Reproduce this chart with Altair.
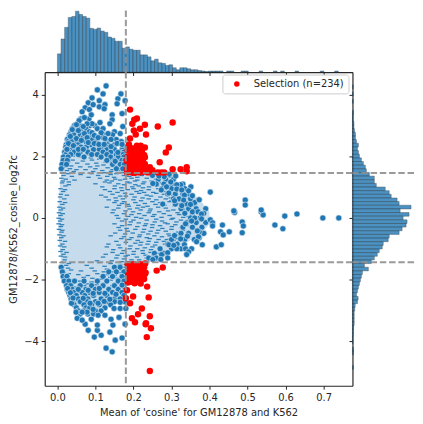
import altair as alt
import pandas as pd

BLUE = "#1f77b4"
INK = "#262626"
X_DOM = [-0.0334, 0.776]
Y_DOM = [-5.45, 4.74]
X_TICKS = [0, .1, .2, .3, .4, .5, .6, .7]
Y_TICKS = [-4, -2, 0, 2, 4]
VLINE = [0.18]
HLINES = [1.46, -1.44]

# top histogram: bar heights, bin 0 starts at x = 0
top_width = 0.00947
top_heights = [18.3, 33.3, 45, 55, 56, 61.3, 58, 56, 54.3, 44, 43, 44.3, 41.3, 40, 35.3, 34, 31, 31, 24, 25.3,
               23, 22, 22, 17.3, 17.3, 15.3, 11.3, 13, 9.3, 8.7, 6.7, 7.3, 4.3, 2.3, 4.3, 4.3, 3.3, 2.3, 2.3,
               1.5, 1, .5, 1, 1, 1, 1, 0, 1, 1, 0, 0, 1, 1, 0, 0, 0, 1, 0, 0, 0, 1, 0, 1, 0, 0, 0, 1, 0, 0, 0, 0, 0, 0, 1, 0, 0, 0, 1]

# right histogram: bar lengths, bin 0 has its top edge at y = 4.32
right_width = 0.1184
right_top = 4.32
right_heights = [.8, 0, .8, 0, .8, 0, 0, 1, .5, .5, 1.5, 1.5, 2,
                 3, 3, 4, 6, 5, 6, 7, 9, 11, 13, 14, 17, 22, 22, 24, 33, 37, 39, 45, 47, 59,
                 48, 57, 51, 55, 54, 50, 47, 37, 36, 31, 30, 27, 25, 22, 19, 12, 16, 10, 9, 8, 7, 6, 5, 4,
                 5.7, 5, 2.7, 2.3, 1.7, 1.7, 1.7, 1.7, 1, .7, .7, .5, .5, 0, 1, 1, 0, 0, 0, 1]

# pale body of the cloud
env_x = [.002, .005, .01, .02, .04, .07, .10, .14, .18, .22, .26, .30, .34, .38, .40]
env_hi = [.3, .9, 1.4, 2.0, 2.55, 2.9, 2.8, 2.45, 1.9, 1.45, 1.35, 1.2, .9, .5, .2]
env_lo = [-.3, -.9, -1.45, -2.05, -2.65, -3.0, -3.0, -2.7, -2.0, -1.45, -1.3, -1.05, -.8, -.5, -.2]

# slivers of overlapped points inside the pale body, by row
sliver_rows = {
    2.12: [.052, .123], 2.09: [.03, .145], 2.06: [.078, .095, .165], 2.01: [.041, .134], 1.98: [.062, .113], 1.95: [.088, .158],
    1.91: [.022, .11, .172], 1.88: [.04, .091, .155], 1.85: [.067, .138], 1.81: [.028, .127], 1.78: [.052, .102, .168], 1.75: [.079, .149],
    1.72: [.02, .121, .173], 1.69: [.036, .105, .15], 1.66: [.06, .086], 1.63: [.014, .132, .177], 1.6: [.033, .1, .16], 1.57: [.05, .074, .145],
    1.54: [.025, .118, .166], 1.51: [.043, .094, .141], 1.47: [.012, .123, .17], 1.44: [.028, .09, .155], 1.41: [.061, .14, .2],
    1.38: [.016, .107, .175, .222], 1.35: [.038, .131, .189], 1.32: [.082, .149, .21], 1.29: [.01, .112, .195, .235],
    1.26: [.022, .152, .178, .26], 1.23: [.045, .13, .165, .21], 1.2: [.014, .143, .204, .248], 1.17: [.03, .125, .184, .228],
    1.14: [.012, .137, .19, .275], 1.11: [.1, .16, .225, .25], 1.08: [.03, .175, .205, .29], 1.04: [.021, .151, .214, .262],
    1.01: [.118, .197, .241], .98: [.168, .225, .28], .95: [.008, .15, .2, .265], .92: [.02, .125, .185, .24], .89: [.17, .22, .31],
    .86: [.015, .138, .208, .284], .83: [.158, .228, .252], .8: [.178, .215, .26], .77: [.009, .145, .195, .28], .74: [.025, .115, .235, .305],
    .71: [.165, .18, .246], .68: [.007, .127, .203, .271], .65: [.153, .224, .298], .62: [.018, .172, .24, .285], .59: [.135, .2, .26],
    .56: [.155, .22, .3, .325], .53: [.006, .175, .25, .295], .5: [.02, .15, .205, .27], .47: [.17, .23, .32], .44: [.013, .185, .258],
    .41: [.162, .213, .281], .38: [.188, .237, .309], .35: [.005, .13, .225, .265], .32: [.015, .16, .21, .285], .29: [.19, .245, .33],
    .26: [.009, .148, .219, .305], .23: [.179, .243, .291], .2: [.199, .268, .338], .17: [.004, .145, .24, .316], .14: [.014, .175, .215, .28],
    .11: [.195, .255, .32], .08: [.008, .156, .229, .295], .05: [.186, .251, .345], .02: [.207, .274, .331], -.01: [.003, .16, .22, .304],
    -.04: [.012, .18, .26, .3], -.07: [.2, .235, .325], -.1: [.007, .17, .275, .35], -.13: [.193, .256, .313], -.16: [.214, .283, .342],
    -.19: [.003, .15, .233, .29], -.22: [.012, .19, .25, .31], -.25: [.17, .23, .27, .34], -.28: [.009, .21, .301],
    -.31: [.161, .249, .327], -.34: [.182, .276], -.37: [.004, .205, .228, .3], -.4: [.013, .165, .265, .33], -.43: [.185, .245, .285],
    -.46: [.011, .225, .318], -.49: [.152, .198, .262], -.52: [.178, .239, .292], -.55: [.005, .217, .32],
    -.58: [.016, .14, .255, .295], -.61: [.175, .215, .275], -.64: [.01, .195, .235], -.67: [.168, .243, .312], -.7: [.189, .266, .288],
    -.73: [.006, .211, .305], -.76: [.02, .155, .24, .28], -.79: [.18, .22, .26], -.82: [.205, .299], -.85: [.013, .134, .237, .283],
    -.88: [.161, .218, .257], -.91: [.007, .192, .29], -.94: [.018, .13, .25, .32], -.97: [.165, .23, .27], -1.0: [.19, .21],
    -1.03: [.014, .147, .246], -1.06: [.174, .224, .272], -1.09: [.008, .201, .285], -1.12: [.024, .145, .245], -1.15: [.17, .225, .265],
    -1.18: [.016, .127, .2], -1.21: [.158, .232, .185], -1.24: [.009, .179, .253], -1.27: [.02, .12, .209], -1.3: [.155, .235], -1.33: [.175, .255],
    -1.36: [.019, .195, .215], -1.39: [.104, .143, .241], -1.42: [.169, .188], -1.45: [.011, .217, .11], -1.48: [.03, .14],
    -1.51: [.165, .18], -1.54: [.023, .077], -1.57: [.124, .152], -1.6: [.172, .012], -1.63: [.028, .09], -1.66: [.13, .15], -1.69: [.17, .036],
    -1.72: [.062, .098], -1.75: [.122, .146], -1.78: [.163, .016], -1.81: [.03, .105], -1.84: [.055, .13], -1.87: [.08, .15, .17],
    -1.9: [.025, .117], -1.93: [.069, .139], -1.96: [.092, .159], -1.99: [.018, .115], -2.02: [.04, .14], -2.05: [.06, .16], -2.08: [.09, .175],
    -2.11: [.033, .127], -2.14: [.078, .151], -2.17: [.103, .035], -2.2: [.07, .145], -2.24: [.044, .12, .165], -2.28: [.083, .136],
    -2.32: [.055, .11, .158], -2.36: [.085, .135], -2.4: [.06, .16],
}

# whole blue points in the sparser parts, by row
dot_rows = {
    3.22: [.062, .083],
    3.0: [.045, .058, .085, .098],
    2.9: [.04, .062, .075, .105, .12],
    2.8: [.036, .044, .084, .15],
    2.7: [.032, .043, .06, .122, .145],
    2.62: [.031, .068, .088, .118],
    2.55: [.026, .041, .071, .092, .155],
    2.48: [.028, .037, .052, .075, .103, .13, .168],
    2.38: [.023, .035, .055, .088, .132, .15],
    2.3: [.022, .032, .047, .062, .076, .115, .134, .176],
    2.22: [.024, .039, .05, .07, .095, .11, .13, .15, .17],
    2.14: [.019, .03, .044, .06, .08, .12, .14, .165, .175],
    2.06: [.022, .035, .055, .09, .105, .13, .155, .172],
    1.98: [.016, .028, .07, .115, .14, .16, .175],
    1.87: [.015, .026, .13, .15, .17, .178],
    1.74: [.012, .024, .145, .165, .176],
    1.6: [.01, .155, .172],
    1.38: [.25, .295],
    1.25: [.265, .285, .305],
    1.1: [.26, .28, .3, .33],
    .95: [.275, .3, .32, .335],
    .78: [.29, .31, .33, .345],
    .62: [.305, .32, .35],
    .45: [.31, .34, .36],
    .3: [.325, .345, .365, .39],
    .15: [.335, .355, .385],
    0.0: [.35, .375],
    -.15: [.34, .365, .39],
    -.3: [.33, .355, .38],
    -.5: [.325, .345, .385],
    -.7: [.3, .335, .36],
    -.85: [.29, .315],
    -1.0: [.27, .3, .325],
    -1.15: [.255, .28],
    -1.3: [.24, .26],
    -1.6: [.01, .15, .165],
    -1.75: [.013, .135, .155, .175],
    -1.9: [.015, .025, .12, .145, .17],
    -2.05: [.018, .03, .045, .07, .105, .13, .16, .175],
    -2.2: [.024, .035, .06, .09, .12, .15, .172],
    -2.32: [.026, .04, .052, .075, .1, .135, .16, .178],
    -2.42: [.03, .043, .065, .085, .11, .145, .17],
    -2.52: [.033, .05, .072, .095, .13, .155, .175],
    -2.63: [.036, .055, .08, .115, .15, .165],
    -2.72: [.04, .06, .078, .1, .13, .15, .176],
    -2.82: [.044, .07, .09, .11, .14],
    -2.92: [.05, .075, .085, .125],
    -3.02: [.055, .07, .1, .115],
    -3.12: [.06, .08, .095],
}

# scattered blue points read one by one
blue_x = [.128, .105, .12, .167, .159, .091, .11, .157, .178, .081, .094, .11, .125, .123, .073, .084, .065, .089, .144, .17,
          .144, .138, .112, .091, .071, .057, .078, .05, .068, .039, .055, .071, .091, .115, .133, .165, .097, .107, .078, .034,
          .05, .063, .125, .141, .157, .17, .029, .042, .081, .097, .109, .123, .141, .159, .152, .025, .055, .068, .172,
          .311, .294, .281, .267, .351, .324, .314, .298, .287, .314, .327, .345, .355, .334, .402, .371, .361, .35, .332, .308,
          .327, .355, .37, .277, .293, .273, .251, .466, .536, .541, .598, .63, .698, .74, .402, .408, .408, .434, .486, .489,
          .572, .593, .429, .436, .452, .486, .381, .418, .431, .373, .373, .379, .379, .494, .494, .536, .464, .373,
          .361, .337, .353, .368, .371, .366, .334, .337, .353, .345, .34, .314, .293, .306, .29, .29, .274, .272, .251, .324, .308, .342,
          .128, .144, .152, .17, .097, .115, .138, .081, .105, .052, .146, .105, .178, .162, .141, .073, .065, .049, .089, .107, .125,
          .149, .165, .18, .165, .094, .078, .065, .037, .027, .034, .041, .055, .068, .086, .107, .123, .138, .154, .17, .081, .094, .11, .125]
blue_y = [4.29, 4.16, 4.03, 4.03, 3.87, 3.9, 3.81, 3.71, 3.81, 3.74, 3.68, 3.61, 3.68, 3.55, 3.58, 3.52, 3.45, 3.35, 3.35, 3.39,
          3.19, 3.06, 3.1, 3.06, 3.26, 3.16, 3.06, 3.03, 2.97, 2.87, 2.84, 2.74, 2.77, 2.77, 2.74, 2.74, 2.68, 2.61, 2.61, 2.65,
          2.58, 2.52, 2.58, 2.55, 2.42, 2.39, 2.42, 2.35, 2.45, 2.42, 2.39, 2.39, 2.32, 2.13, 1.84, 2.23, 2.23, 2.23, 2.97,
          1.36, 1.42, 1.34, 1.36, 1.01, 1.08, 1.08, 1.17, 1.01, .94, .91, .88, .72, .74, .84, .59, .5, .44, .58, .56,
          .4, .2, .2, .45, .81, .91, 1.12, .18, .2, .1, .06, .13, 0, 0, -.06, -.16, -.26, -.23, -.13, -.26,
          -.23, -.35, -.45, -.55, -.45, -.48, -.87, -.94, -.87, -.45, -.64, .13, -.03, .58, .42, .26, .23, .59,
          0, -.19, -.1, -.42, -.61, -.77, -.87, -1.0, -1.0, -1.1, -1.19, -1.0, -.87, -.89, -1.13, -1.3, -1.19, -1.35, -1.35, -.68, -.57, -.59,
          -4.23, -4.35, -3.97, -3.9, -3.87, -3.81, -3.71, -3.65, -3.65, -3.26, -3.48, -3.48, -3.45, -3.23, -3.29, -3.45, -3.32, -3.06, -3.29, -3.16, -3.16,
          -2.94, -2.94, -2.94, -2.74, -2.97, -3.06, -3.06, -2.77, -2.29, -2.43, -2.6, -2.32, -2.61, -2.77, -2.77, -2.71, -2.64, -2.48, -2.18, -2.35, -2.45, -2.29, -2.45]

# selected points
red_x = [.191, .209, .202, .197, .23, .303, .264, .217, .201, .206, .233, .191, .293, .285, .269, .243, .225, .303, .324, .34, .34, .264, .281, .273,
         .23, .219, .209, .188, .196, .222, .23, .225,
         .185, .19, .195, .2, .205, .21, .215, .22, .185, .192, .198, .208, .218, .228, .183, .19, .2, .21, .22, .23, .186, .194, .204, .214, .224,
         .184, .192, .202, .212, .235, .25, .183, .19, .198, .206, .216, .226, .238, .186, .196, .204,
         .277, .261, .236, .219, .208, .183, .199, .24, .18, .191, .222, .212, .243, .196, .204, .233, .232, .246, .235, .243,
         .185, .192, .2, .208, .216, .224, .231, .186, .194, .203, .212, .22, .228, .19, .198, .207, .216, .226, .232,
         .186, .195, .205, .215, .225, .23, .188, .197, .208, .218, .228, .185, .193, .203, .212]
red_y = [3.52, 3.23, 3.19, 3.06, 3.03, 3.1, 2.97, 2.9, 2.84, 2.71, 2.71, 2.58, 2.29, 2.13, 1.81, 1.65, 1.58, 1.58, 1.58, 1.65, 1.52, 1.48, 1.48, 1.48,
         2.29, 2.35, 2.35, 2.39, 2.26, 2.16, 1.97, 1.84,
         2.2, 2.28, 2.1, 2.25, 2.05, 2.2, 2.1, 2.25, 2.0, 1.95, 2.0, 1.95, 2.02, 2.05, 1.85, 1.8, 1.85, 1.82, 1.9, 1.75,
         1.7, 1.72, 1.68, 1.75, 1.7, 1.6, 1.58, 1.62, 1.56, 1.55, 1.55, 1.48, 1.5, 1.47, 1.5, 1.48, 1.5, 1.48, 1.55, 1.53, 1.47,
         -1.61, -1.71, -2.23, -2.13, -2.08, -2.35, -2.55, -2.58, -2.61, -2.77, -2.94, -3.13, -3.19, -3.26, -3.39, -3.42, -3.45, -3.58, -3.87, -4.97,
         -1.5, -1.52, -1.5, -1.53, -1.5, -1.52, -1.48, -1.62, -1.6, -1.63, -1.6, -1.65, -1.6, -1.72, -1.75, -1.72, -1.76, -1.72, -1.78,
         -1.85, -1.88, -1.84, -1.9, -1.86, -1.82, -1.97, -2.0, -1.96, -2.03, -1.98, -2.1, -2.07, -2.12, -2.05]
LEGEND_LABEL = "Selection (n=234)"
X_TITLE = "Mean of 'cosine' for GM12878 and K562"
Y_TITLE = "GM12878/K562_cosine_log2fc"


def rows_to_frame(rows):
    return pd.DataFrame([{"x": x, "y": y} for y, xs in rows.items() for x in xs])


x_scale = alt.Scale(domain=X_DOM, nice=False, zero=False)
y_scale = alt.Scale(domain=Y_DOM, nice=False, zero=False)
text_style = dict(labelColor=INK, titleColor=INK, labelFontSize=10, titleFontSize=10, titleFontWeight="normal",
                  labelFont="DejaVu Sans", titleFont="DejaVu Sans", tickColor=INK, domainColor=INK, grid=False,
                  tickSize=3.5, tickWidth=1, domainWidth=1.2)
main_x_axis = alt.Axis(values=X_TICKS, format=".1f", title=X_TITLE, labelPadding=3, titlePadding=5, labelFlush=False, **text_style)
main_y_axis = alt.Axis(values=Y_TICKS, format="d", title=Y_TITLE, labelPadding=3, titlePadding=5, **text_style)
top_x_axis = alt.Axis(values=X_TICKS, labels=False, title=None, **text_style)
right_y_axis = alt.Axis(values=Y_TICKS, labels=False, title=None, **text_style)

main_x = alt.X("x:Q", scale=x_scale, axis=main_x_axis)
main_y = alt.Y("y:Q", scale=y_scale, axis=main_y_axis)

dash = dict(color="#8f8f8f", strokeWidth=2, strokeDash=[6.5, 2.8], opacity=0.9)
v_df = pd.DataFrame({"x": VLINE})
h_df = pd.DataFrame({"y": HLINES})

env = alt.Chart(pd.DataFrame({"x": env_x, "y": env_hi, "lo": env_lo})).mark_area(color="#c6dcec").encode(
    x=main_x, y=main_y, y2="lo:Q")

slivers = alt.Chart(rows_to_frame(sliver_rows)).mark_tick(color=BLUE, orient="horizontal", size=4.5, thickness=1.3, opacity=0.9).encode(
    x=main_x, y=main_y)

dots = pd.concat([rows_to_frame(dot_rows), pd.DataFrame({"x": blue_x, "y": blue_y})])
blue_pts = alt.Chart(dots).mark_circle(color=BLUE, size=38, opacity=1, stroke="#e8f0f6", strokeWidth=0.6).encode(
    x=main_x, y=main_y)

red_df = pd.DataFrame({"x": red_x, "y": red_y, "label": LEGEND_LABEL})
red_pts = alt.Chart(red_df).mark_circle(size=42, opacity=1).encode(
    x=main_x, y=main_y,
    color=alt.Color("label:N", scale=alt.Scale(domain=[LEGEND_LABEL], range=["#ff0000"]),
                    legend=alt.Legend(title=None, orient="none", legendX=179, legendY=64.5, fillColor="white",
                                      strokeColor="#cccccc", cornerRadius=2.5, padding=4.5, symbolSize=30,
                                      symbolType="circle", labelFontSize=10, labelColor=INK, labelFont="DejaVu Sans",
                                      labelOffset=12, symbolOffset=5)))

main = alt.layer(
    env, slivers, blue_pts, red_pts,
    alt.Chart(v_df).mark_rule(**dash).encode(x=main_x),
    alt.Chart(h_df).mark_rule(**dash).encode(y=main_y),
).properties(width=310, height=316)

top_df = pd.DataFrame({"x": [i * top_width for i in range(len(top_heights))],
                       "x1": [(i + 1) * top_width for i in range(len(top_heights))], "h": top_heights, "h0": 0})
top_df = top_df[top_df.h > 0]
bar_style = dict(color=BLUE, opacity=0.8, stroke="#1c2a33", strokeWidth=0.8, strokeOpacity=0.55)
top_x = alt.X("x:Q", scale=x_scale, axis=top_x_axis)
top_bars = alt.Chart(top_df).mark_rect(**bar_style).encode(
    x=top_x, x2="x1:Q",
    y=alt.Y("h:Q", scale=alt.Scale(domain=[0, 62], nice=False), axis=None),
    y2="h0:Q",
)
top = alt.layer(top_bars, alt.Chart(v_df).mark_rule(**dash).encode(x=top_x)).properties(width=310, height=62)

right_df = pd.DataFrame({"y": [right_top - i * right_width for i in range(len(right_heights))],
                         "y1": [right_top - (i + 1) * right_width for i in range(len(right_heights))], "h": right_heights, "h0": 0})
right_df = right_df[right_df.h > 0]
right_y = alt.Y("y:Q", scale=y_scale, axis=right_y_axis)
right_bars = alt.Chart(right_df).mark_rect(**bar_style).encode(
    y=right_y, y2="y1:Q",
    x=alt.X("h:Q", scale=alt.Scale(domain=[0, 62], nice=False), axis=None),
    x2="h0:Q",
)
right = alt.layer(right_bars, alt.Chart(h_df).mark_rule(**dash).encode(y=right_y)).properties(width=62, height=316)

chart = alt.vconcat(top, alt.hconcat(main, right, spacing=0, bounds="flush"), spacing=0, bounds="flush").properties(
    padding={"left": 0, "top": 0, "right": 0, "bottom": 0}
).configure_view(stroke=None)

chart.save("out.html", embed_options={"renderer": "svg", "actions": False})
